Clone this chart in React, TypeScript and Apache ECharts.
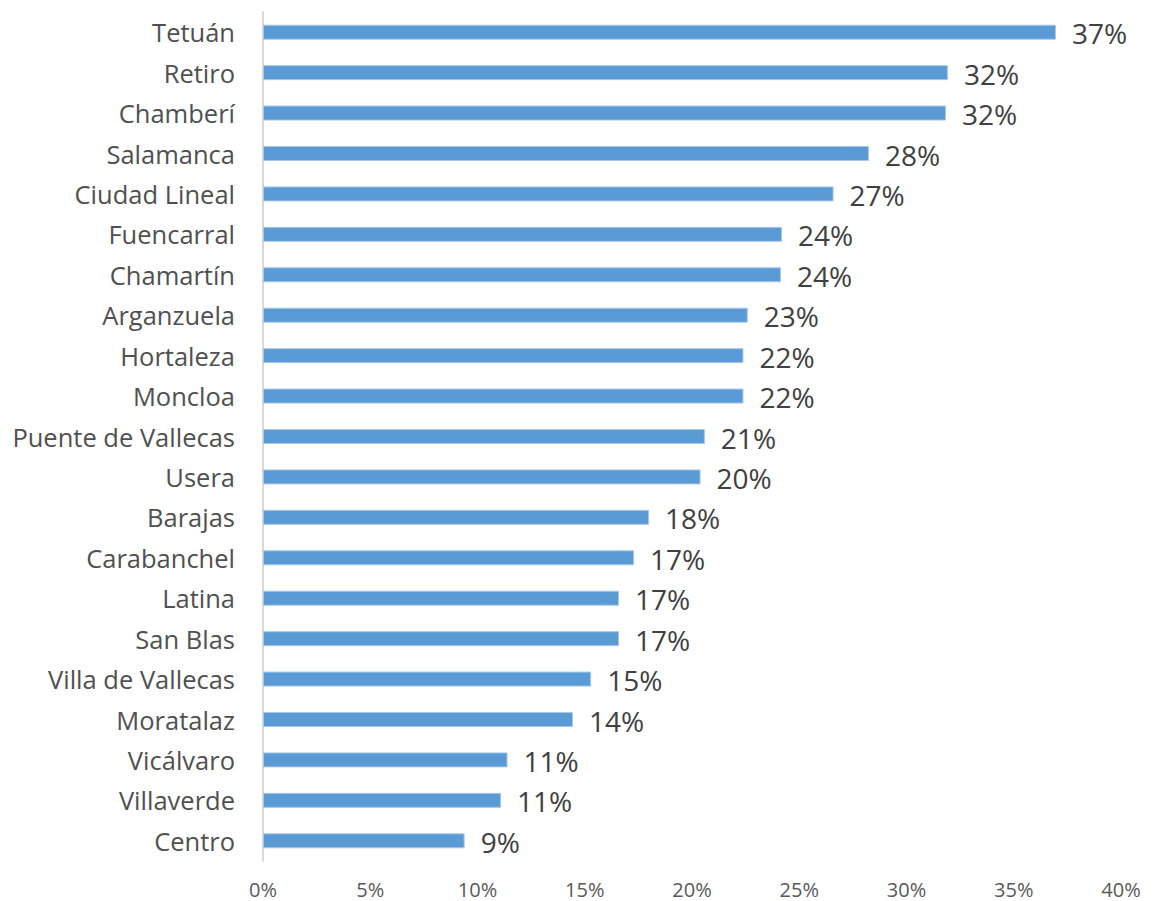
import React, { useEffect, useRef } from "react";
import * as echarts from "echarts";

const categories = [
  "Tetuán", "Retiro", "Chamberí", "Salamanca", "Ciudad Lineal", "Fuencarral", "Chamartín",
  "Arganzuela", "Hortaleza", "Moncloa", "Puente de Vallecas", "Usera", "Barajas", "Carabanchel",
  "Latina", "San Blas", "Villa de Vallecas", "Moratalaz", "Vicálvaro", "Villaverde", "Centro",
];
const values = [
  36.97, 31.93, 31.84, 28.25, 26.6, 24.2, 24.15, 22.6, 22.4, 22.4, 20.6, 20.4, 18.0, 17.3,
  16.6, 16.6, 15.3, 14.45, 11.4, 11.1, 9.4,
];
const xTicks = { min: 0, max: 40, interval: 5 };

export default function App() {
  const ref = useRef<HTMLDivElement>(null);
  useEffect(() => {
    if (!ref.current) return;
    const chart = echarts.init(ref.current, null, { renderer: "svg" });
    chart.setOption({
      animation: false,
      backgroundColor: "#ffffff",
      grid: { left: 263, right: 32, top: 12, bottom: 40, containLabel: false },
      xAxis: {
        type: "value",
        min: xTicks.min,
        max: xTicks.max,
        interval: xTicks.interval,
        axisLine: { show: false },
        axisTick: { show: false },
        splitLine: { show: false },
        axisLabel: {
          formatter: "{value}%",
          color: "#595959",
          fontSize: 20,
          fontFamily: "Open Sans",
          margin: 18,
        },
      },
      yAxis: {
        type: "category",
        data: categories,
        inverse: true,
        axisLine: { show: true, lineStyle: { color: "#d9d9d9", width: 2 } },
        axisTick: { show: false },
        axisLabel: {
          color: "#505050",
          fontSize: 25.5,
          fontFamily: "Open Sans",
          margin: 28,
        },
      },
      series: [
        {
          type: "bar",
          data: values,
          barWidth: 15,
          itemStyle: { color: "#5b9bd5", borderColor: "#a9c8e8", borderWidth: 1 },
          label: {
            show: true,
            position: "right",
            distance: 16,
            color: "#404040",
            fontSize: 28,
            fontFamily: "Open Sans",
            offset: [0, 1],
            formatter: (p: any) => Math.round(p.value) + "%",
          },
        },
      ],
    });
    return () => chart.dispose();
  }, []);
  return (
    <div
      ref={ref}
      style={{ position: "fixed", left: 0, top: 0, width: 1153, height: 901 }}
    />
  );
}
